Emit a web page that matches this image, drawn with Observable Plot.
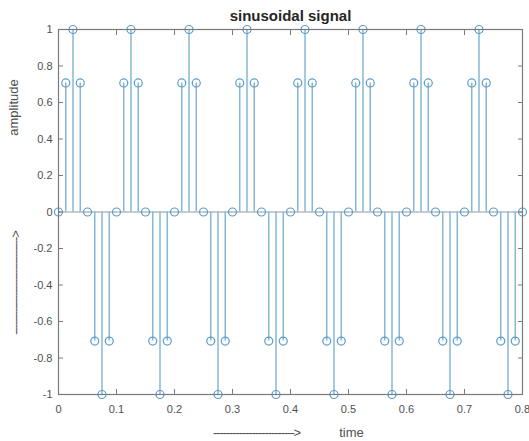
<!DOCTYPE html>
<html>
<head>
<meta charset="utf-8">
<script src="https://cdn.jsdelivr.net/npm/d3@7"></script>
<script src="https://cdn.jsdelivr.net/npm/@observablehq/plot@0.6"></script>
<style>
  html, body { margin: 0; padding: 0; background: #fff; }
  #chart svg { display: block; }
</style>
</head>
<body>
<div id="chart"></div>
<script>
// Sample instants (s) of the discrete sinusoid
const time = [
  0, 0.0125, 0.025, 0.0375, 0.05, 0.0625, 0.075, 0.0875,
  0.1, 0.1125, 0.125, 0.1375, 0.15, 0.1625, 0.175, 0.1875,
  0.2, 0.2125, 0.225, 0.2375, 0.25, 0.2625, 0.275, 0.2875,
  0.3, 0.3125, 0.325, 0.3375, 0.35, 0.3625, 0.375, 0.3875,
  0.4, 0.4125, 0.425, 0.4375, 0.45, 0.4625, 0.475, 0.4875,
  0.5, 0.5125, 0.525, 0.5375, 0.55, 0.5625, 0.575, 0.5875,
  0.6, 0.6125, 0.625, 0.6375, 0.65, 0.6625, 0.675, 0.6875,
  0.7, 0.7125, 0.725, 0.7375, 0.75, 0.7625, 0.775, 0.7875,
  0.8
];

// Sample amplitudes
const amplitude = [
  0, 0.7071, 1, 0.7071, 0, -0.7071, -1, -0.7071,
  0, 0.7071, 1, 0.7071, 0, -0.7071, -1, -0.7071,
  0, 0.7071, 1, 0.7071, 0, -0.7071, -1, -0.7071,
  0, 0.7071, 1, 0.7071, 0, -0.7071, -1, -0.7071,
  0, 0.7071, 1, 0.7071, 0, -0.7071, -1, -0.7071,
  0, 0.7071, 1, 0.7071, 0, -0.7071, -1, -0.7071,
  0, 0.7071, 1, 0.7071, 0, -0.7071, -1, -0.7071,
  0, 0.7071, 1, 0.7071, 0, -0.7071, -1, -0.7071,
  0
];

// Axis ticks
const xTicks = [0, 0.1, 0.2, 0.3, 0.4, 0.5, 0.6, 0.7, 0.8];
const yTicks = [-1, -0.8, -0.6, -0.4, -0.2, 0, 0.2, 0.4, 0.6, 0.8, 1];

// Text
const titleText = "sinusoidal signal";
const xLabel = "time";
const xArrow = "------------------------->";
const yLabel = "amplitude";
const yArrow = "------------------------------>";

const samples = time.map((t, i) => ({t, v: amplitude[i]}));

const stemColor = "#86b8d9";
const markerColor = "#5d9dc8";
const axisColor = "#7a7a7a";
const textColor = "#505050";
const fmt = d => String(d);

const chart = Plot.plot({
  width: 529,
  height: 441,
  marginLeft: 58,
  marginRight: 7,
  marginTop: 29,
  marginBottom: 47,
  style: {
    fontFamily: "'Liberation Sans', Arial, Helvetica, sans-serif",
    fontSize: "11px",
    background: "#fff",
    color: textColor
  },
  x: {domain: [0, 0.8], axis: null},
  y: {domain: [-1, 1], axis: null},
  marks: [
    // stem baseline
    Plot.ruleY([0], {stroke: "#8c98a3", strokeWidth: 1.2}),
    // stems
    Plot.ruleX(samples, {x: "t", y1: 0, y2: "v", stroke: stemColor, strokeWidth: 1.5}),
    // open circle markers
    Plot.dot(samples, {x: "t", y: "v", r: 4, stroke: markerColor, strokeWidth: 1.2, fill: "none"}),
    // box
    Plot.frame({stroke: axisColor, strokeWidth: 1.2}),
    // inward ticks on all four sides, labels on bottom and left
    Plot.axisX(xTicks, {anchor: "bottom", tickSize: -5, tickPadding: 16, tickFormat: fmt, stroke: axisColor, fill: textColor, label: null}),
    Plot.axisX(xTicks, {anchor: "top", tickSize: -5, tickFormat: () => "", stroke: axisColor, label: null}),
    Plot.axisY(yTicks, {anchor: "left", tickSize: -5, tickPadding: 11, tickFormat: fmt, stroke: axisColor, fill: textColor, label: null}),
    Plot.axisY(yTicks, {anchor: "right", tickSize: -5, tickFormat: () => "", stroke: axisColor, label: null}),
    // title
    Plot.text([titleText], {text: d => d, frameAnchor: "top", textAnchor: "middle", lineAnchor: "bottom", dy: -9, fontSize: 15, fontWeight: "bold", fill: "#262626"}),
    // x label
    Plot.text([xArrow], {text: d => d, frameAnchor: "bottom", textAnchor: "middle", lineAnchor: "middle", dx: -34, dy: 38, fontSize: 13, fill: textColor}),
    Plot.text([xLabel], {text: d => d, frameAnchor: "bottom", textAnchor: "middle", lineAnchor: "middle", dx: 61, dy: 38, fontSize: 13, fill: textColor}),
    // y label
    Plot.text([yLabel], {text: d => d, frameAnchor: "left", textAnchor: "middle", lineAnchor: "middle", rotate: -90, dx: -45, dy: -104.5, fontSize: 13, fill: textColor}),
    Plot.text([yArrow], {text: d => d, frameAnchor: "left", textAnchor: "middle", lineAnchor: "middle", rotate: -90, dx: -43, dy: 71, fontSize: 13, fill: textColor})
  ]
});

// close up the hyphens of the arrow labels into a continuous line
d3.select(chart).selectAll("text")
  .filter(function () { return this.textContent.includes("--"); })
  .style("letter-spacing", "-1.1px");

document.getElementById("chart").appendChild(chart);
</script>
</body>
</html>
